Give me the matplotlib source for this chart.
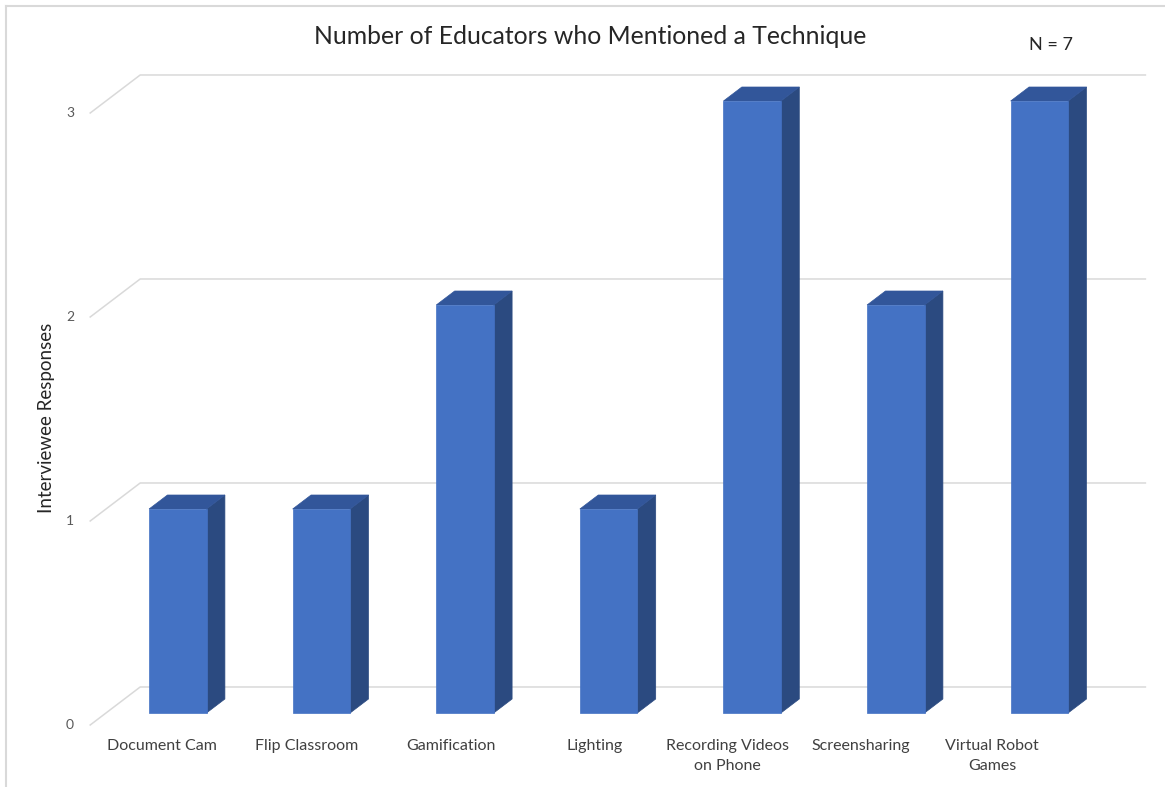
import numpy as np
import matplotlib.pyplot as plt
from matplotlib.patches import Polygon
from matplotlib.lines import Line2D

# Data
techniques = ['Document Cam', 'Flip Classroom', 'Gamification', 'Lighting',
              'Recording Videos\non Phone', 'Screensharing', 'Virtual Robot\nGames']
responses = [1, 1, 2, 1, 3, 2, 3]
yticks = [0, 1, 2, 3]

# Look of the fake 3D (Excel style)
FRONT = '#4472C4'
SIDE = '#2B4A80'
TOP = '#32569A'
GRID = '#D9D9D9'
DX, DY = 0.348, 0.1863      # full floor depth, in data units
T1, T2 = 0.316, 0.684       # where the bars sit inside the depth
BW = 0.40
label_nudge = [0, 1.5, 1.5, 1.5, -9, -19.5, -31.5]   # px, label centring

plt.rcParams['font.family'] = ['Lato', 'DejaVu Sans']

fig = plt.figure(figsize=(11.65, 7.87), dpi=100)
ax = fig.add_axes([90.2 / 1165, 62 / 787, 1005.2 / 1165, 612 / 787])
ax.set_xlim(-0.5, 6.5)
ax.set_ylim(0, 3)
ax.axis('off')

# gridlines: short diagonal on the left then back wall line
for v in yticks:
    ax.plot([-0.5, -0.5 + DX, 6.5 + DX], [v, v + DY, v + DY],
            color=GRID, lw=1.1, zorder=1, clip_on=False)
    ax.text(-0.5 - 0.14, v, str(v), ha='center', va='center',
            fontsize=10, color='#595959')

def off(x, y, t):
    return (x + t * DX, y + t * DY)

for i, v in enumerate(responses):
    x0, x1 = i - BW / 2, i + BW / 2
    front = [off(x0, 0, T1), off(x1, 0, T1), off(x1, v, T1), off(x0, v, T1)]
    side = [off(x1, 0, T1), off(x1, 0, T2), off(x1, v, T2), off(x1, v, T1)]
    top = [off(x0, v, T1), off(x1, v, T1), off(x1, v, T2), off(x0, v, T2)]
    for pts, c in [(side, SIDE), (top, TOP), (front, FRONT)]:
        ax.add_patch(Polygon(pts, closed=True, facecolor=c, edgecolor=c,
                             lw=0.5, zorder=3, clip_on=False))

for i, lab in enumerate(techniques):
    ax.annotate(lab, xy=(i, 0), xytext=(label_nudge[i], -14),
                textcoords='offset pixels', ha='center', va='top',
                fontsize=11.5, color='#404040', linespacing=1.55,
                annotation_clip=False)

fig.text(590 / 1165, 1 - 37 / 787, 'Number of Educators who Mentioned a Technique',
         ha='center', va='center', fontsize=17.8, color='#262626')
fig.text(1051 / 1165, 1 - 45 / 787, 'N = 7', ha='center', va='center',
         fontsize=13, color='#262626')
fig.text(47 / 1165, 1 - 418 / 787, 'Interviewee Responses', rotation=90,
         ha='center', va='center', fontsize=13.5, color='#262626')

# thin frame round the chart area (left and top only, rest is cropped)
fig.add_artist(Line2D([6 / 1165, 6 / 1165], [0, 1 - 6 / 787],
                      transform=fig.transFigure, color=GRID, lw=1.5))
fig.add_artist(Line2D([6 / 1165, 1], [1 - 6 / 787, 1 - 6 / 787],
                      transform=fig.transFigure, color=GRID, lw=1.5))

fig.savefig('out.png', dpi=100)
